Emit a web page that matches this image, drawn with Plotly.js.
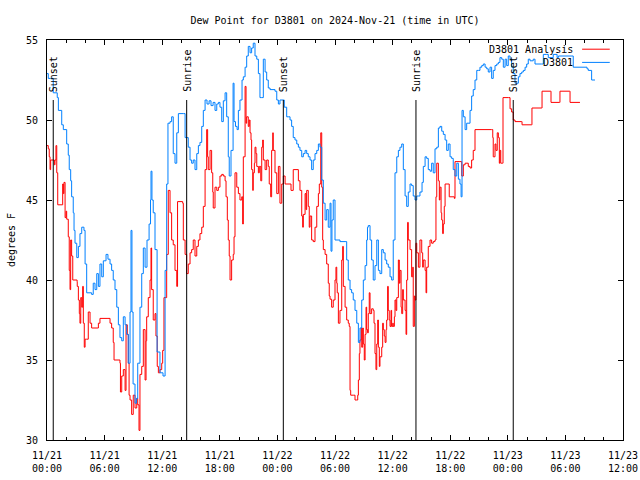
<!DOCTYPE html>
<html>
<head>
<meta charset="utf-8">
<script src="https://cdn.plot.ly/plotly-3.0.1.min.js"></script>
<style>html,body{margin:0;padding:0;background:#fff;}#chart{width:640px;height:480px;}</style>
</head>
<body>
<div id="chart"></div>
<script>
// Minutes since 2024-11-21 00:00 UTC
const obsMinutes = [0,8,23,39,56,64,71,92,102,123,133,139,148,154,164,169,175,186,196,206,217,231,238,248,279,289,300,311,321,331,342,352,369,381,394,404,414,425,436,446,456,467,477,488,498,508,519,525,531,538,550,559,567,581,592,602,613,625,638,647,650,656,664,675,688,706,725,738,748,756,769,779,789,800,811,821,852,863,873,883,894,904,914,925,936,946,956,967,977,988,1000,1013,1025,1038,1050,1061,1071,1081,1092,1102,1113,1123,1133,1139,1150,1163,1169,1178,1188,1196,1206,1219,1227,1238,1248,1258,1269,1279,1289,1300,1311,1321,1331,1342,1352,1363,1373,1383,1394,1425,1436,1446,1456,1477,1483,1498,1508,1519,1529,1539,1550,1561,1571,1581,1592,1602,1613,1623,1633,1644,1654,1664,1675,1686,1696,1706,1717,1727,1738,1748,1758,1769,1775,1781,1789,1800,1831,1863,1873,1883,1894,1904,1914,1925,1936,1946,1956,1967,1977,1988,1998,2003,2008,2019,2029,2039,2050,2061,2071,2081,2092,2102,2113,2123,2133,2144,2154,2164,2175,2186,2196,2206,2217,2227,2238,2248,2258,2269,2279,2289,2300,2311,2321,2331,2344,2352,2363,2373,2383,2394,2404,2414,2425,2436,2446,2456,2467,2477,2488,2498,2508,2519,2529,2539,2550,2561,2571,2581,2588,2594,2602,2613,2623,2644,2654,2664,2675,2686,2696,2706,2717,2727,2738,2748,2758,2769,2779,2789,2800,2811,2821,2831,2842,2852,2863,2873,2883,2894,2904,2914,2925,2936,2946,2956,2967,2977,2988,2998,3008,3019,3039,3050,3092,3102,3123,3133,3156,3164,3188,3196,3281,3289,3375,3383,3404,3425];
const obsDewpt = [52.9,52.6,52.6,51.7,51.7,51.4,50.6,49.7,49.4,48.5,47.8,46.9,46.2,45.2,44.2,43.1,42.3,41.4,42.1,42.9,43.3,43.1,41.0,39.2,39.1,39.8,39.4,40.4,39.6,41.0,40.2,41.2,41.6,41.3,41.0,40.6,40.0,39.4,38.3,37.2,36.4,36.2,37.7,37.2,36.6,34.8,38.0,43.1,38.0,33.5,32.3,32.6,34.8,38.3,40.4,42.0,40.8,42.5,43.5,45.0,46.8,45.0,44.2,41.9,35.5,34.2,34.0,40.6,46.0,49.8,49.9,50.2,47.9,47.3,49.2,50.4,50.4,48.9,48.9,48.3,47.5,47.3,47.5,46.9,47.9,48.4,48.6,49.6,50.6,51.25,51.0,51.2,50.9,51.1,50.6,51.0,51.1,50.8,49.9,51.2,51.7,50.2,47.7,46.5,48.1,52.3,49.9,49.6,49.4,50.6,51.25,52.5,52.7,53.3,54.0,54.6,54.2,54.5,54.8,54.0,53.8,52.9,51.4,51.4,53.8,53.0,52.5,52.0,51.9,51.8,51.25,51.0,51.25,51.25,50.8,50.2,50.2,50.0,49.6,48.9,48.75,48.5,48.3,48.1,47.7,47.9,48.1,47.9,47.7,47.5,46.9,47.5,47.9,48.1,48.5,48.3,46.25,44.8,43.75,44.4,43.3,44.8,41.8,43.75,45.0,42.5,42.4,42.4,41.25,40.0,39.4,39.2,38.75,38.1,37.3,36.1,37.0,38.75,40.0,40.9,42.5,43.3,43.4,42.5,41.25,40.0,40.9,42.5,40.6,40.4,41.9,41.7,41.25,41.0,40.8,40.2,40.0,42.5,46.7,47.7,48.1,48.3,48.5,46.9,45.25,44.6,45.5,46.0,45.9,45.25,45.0,45.25,45.25,45.5,46.1,47.1,47.7,47.6,46.9,46.8,47.3,46.7,48.2,48.3,49.5,49.6,49.3,49.1,48.75,48.1,48.5,47.7,47.6,46.9,46.5,47.3,46.3,46.0,45.2,50.6,50.2,49.4,49.8,50.6,51.5,51.9,52.5,53.1,53.1,53.3,53.4,53.5,53.3,53.2,53.0,53.3,52.6,53.1,53.4,53.5,53.6,53.9,53.8,53.3,53.8,53.4,54.0,53.8,53.3,52.9,52.3,52.3,52.7,52.9,53.0,53.1,53.3,53.5,53.8,53.7,53.8,53.5,53.5,54.1,54.1,53.9,53.9,54.1,53.9,54.0,54.0,53.3,53.2,53.1,52.5,52.5];

const anlMinutes = [0,8,14,19,23,39,46,50,56,61,67,94,98,102,106,113,119,123,133,139,144,148,154,161,188,189,196,202,206,211,217,223,227,233,238,248,258,269,279,313,321,331,381,394,404,414,419,444,456,459,467,477,488,494,502,508,513,519,529,539,550,561,567,575,581,592,602,613,619,623,633,644,650,654,664,675,681,689,696,706,717,723,731,738,748,758,769,779,789,800,811,816,844,848,852,863,873,883,894,904,914,925,936,946,956,967,977,988,998,1004,1008,1019,1029,1036,1039,1050,1061,1071,1081,1092,1102,1113,1119,1127,1133,1139,1144,1154,1164,1169,1175,1186,1196,1206,1217,1223,1227,1238,1244,1248,1258,1264,1269,1275,1279,1286,1289,1296,1300,1306,1311,1321,1327,1336,1342,1348,1352,1363,1373,1383,1389,1398,1404,1411,1414,1425,1436,1446,1456,1467,1477,1488,1519,1525,1538,1539,1569,1571,1581,1592,1598,1602,1613,1619,1623,1633,1639,1644,1654,1664,1675,1686,1696,1702,1711,1717,1723,1727,1738,1748,1758,1764,1769,1779,1789,1800,1806,1811,1814,1821,1831,1842,1848,1852,1863,1873,1883,1889,1894,1898,1914,1925,1936,1942,1946,1952,1956,1963,1967,1973,1977,1983,1988,1994,1998,2004,2008,2014,2019,2029,2039,2044,2050,2056,2061,2067,2071,2077,2081,2092,2098,2102,2108,2113,2119,2123,2129,2133,2139,2144,2150,2154,2161,2164,2171,2175,2181,2186,2196,2202,2206,2213,2217,2223,2227,2238,2244,2248,2254,2258,2269,2279,2286,2289,2296,2300,2306,2311,2321,2331,2342,2348,2352,2363,2369,2373,2383,2394,2404,2414,2425,2431,2436,2446,2452,2456,2463,2467,2473,2477,2483,2488,2506,2514,2546,2550,2581,2592,2602,2613,2633,2644,2654,2664,2675,2779,2786,2789,2800,2806,2814,2821,2827,2831,2836,2848,2850,2883,2894,2904,2914,2925,2967,2969,3029,3031,3092,3094,3147,3150,3203,3206,3266,3269,3331];
const anlDewpt = [48.4,48.2,47.7,46.9,47.5,47.5,47.2,47.5,48.4,46.7,44.7,44.7,46.0,45.4,46.1,43.9,44.3,43.8,42.7,40.6,39.4,42.5,41.5,40.0,39.9,39.6,38.75,37.9,37.3,38.9,38.3,39.6,37.3,35.8,36.3,36.3,38.0,37.3,37.0,37.0,37.3,37.6,37.6,37.3,37.0,36.1,35.0,35.0,34.8,33.0,34.0,34.4,33.1,37.2,36.6,34.8,32.8,32.5,31.6,32.8,32.0,32.6,32.2,30.6,34.1,34.6,36.9,33.75,36.2,37.7,38.9,40.0,42.0,39.4,37.5,37.9,36.5,34.6,34.2,34.4,34.8,35.6,38.9,38.9,41.6,45.6,44.2,42.5,42.2,40.6,39.6,44.9,44.9,44.8,42.5,41.6,40.4,41.0,41.7,41.9,42.5,41.5,42.1,42.5,42.9,43.3,44.6,46.9,49.4,47.7,46.9,48.1,46.7,45.5,44.5,45.8,45.6,45.8,46.5,46.6,46.5,46.2,45.2,43.75,42.5,41.5,40.0,41.25,41.6,42.7,46.7,45.8,45.4,45.0,45.2,43.5,47.7,52.1,49.8,50.2,49.6,50.0,49.2,48.75,46.9,45.6,46.7,47.3,48.3,47.9,47.1,46.7,47.1,46.2,48.3,48.75,47.5,46.9,47.5,47.1,46.0,45.2,48.1,49.2,48.1,46.7,45.4,47.1,44.8,46.0,46.5,46.0,46.0,45.6,45.6,46.9,46.9,46.2,45.6,44.0,43.3,44.1,45.4,44.4,45.6,44.6,43.3,44.0,42.5,42.4,43.3,44.6,45.4,46.0,49.2,45.8,42.5,41.9,41.6,41.0,39.8,39.0,38.8,38.3,38.75,40.0,40.8,39.8,39.2,37.3,38.1,41.25,42.1,39.6,38.3,37.5,37.3,37.1,33.1,32.8,32.8,32.5,32.5,32.8,33.75,35.4,36.25,37.0,35.8,37.0,36.0,35.0,36.6,38.3,36.9,36.7,37.9,39.2,37.9,38.2,38.1,37.3,35.4,34.4,36.0,37.5,35.8,34.6,35.2,35.8,37.3,36.9,36.5,36.1,36.9,37.5,39.6,38.1,37.5,37.1,38.1,37.1,37.3,37.1,37.7,38.75,38.1,38.9,41.25,39.8,40.6,38.3,37.9,39.4,38.75,38.1,36.6,40.0,43.6,42.5,41.9,40.2,40.8,37.1,39.0,38.75,42.3,41.7,40.8,42.5,41.7,40.8,41.25,40.6,39.2,40.8,42.1,42.5,42.3,42.4,42.5,45.2,47.3,46.2,45.0,45.8,44.2,43.75,42.9,43.5,44.6,46.0,46.0,45.2,45.1,47.4,47.4,46.5,47.2,47.3,47.1,47.0,47.5,48.1,49.4,49.4,48.9,47.7,48.5,48.1,49.2,48.9,47.3,48.1,47.3,47.3,51.4,51.4,50.7,50.5,50.0,49.9,49.9,49.7,49.7,50.75,50.75,51.8,51.8,51.1,51.1,51.8,51.8,51.1,51.1];

const eventMinutes = [39, 873, 1477, 2306, 2914];
const eventLabels = ['Sunset', 'Sunrise', 'Sunset', 'Sunrise', 'Sunset'];
const seriesNames = ['D3801 Analysis', 'D3801'];
const seriesColors = ['#ff0000', '#0080ff'];

const baseMs = Date.UTC(2024, 10, 21, 0, 0, 0);
function toDate(min) {
  return new Date(baseMs + min * 60000).toISOString().slice(0, 19).replace('T', ' ');
}

const FONT = 'DejaVu Sans Mono, monospace';

const traces = [
  { x: anlMinutes.map(toDate), y: anlDewpt, type: 'scatter', mode: 'lines', name: seriesNames[0],
    line: { color: seriesColors[0], width: 1, shape: 'hv' }, hoverinfo: 'skip' },
  { x: obsMinutes.map(toDate), y: obsDewpt, type: 'scatter', mode: 'lines', name: seriesNames[1],
    line: { color: seriesColors[1], width: 1, shape: 'hv' }, hoverinfo: 'skip' }
];

const shapes = eventMinutes.map(m => ({
  type: 'line', xref: 'x', yref: 'paper', x0: toDate(m), x1: toDate(m), y0: 0, y1: 0.85,
  line: { color: '#000', width: 1 }
}));
const annotations = eventMinutes.map((m, i) => ({
  xref: 'x', yref: 'paper', x: toDate(m), y: 0.865, text: eventLabels[i],
  textangle: -90, showarrow: false, xanchor: 'center', yanchor: 'bottom',
  font: { family: FONT, size: 10, color: '#000' }
}));

// legend (gnuplot style: text right-aligned, sample line to its right)
const legY = [0.977, 0.944];
seriesNames.forEach((n, i) => {
  annotations.push({ xref: 'paper', yref: 'paper', x: 0.917, y: legY[i], text: n, showarrow: false,
    xanchor: 'right', yanchor: 'middle', font: { family: FONT, size: 10, color: '#000' } });
  shapes.push({ type: 'line', xref: 'paper', yref: 'paper', x0: 0.929, x1: 0.977, y0: legY[i], y1: legY[i],
    line: { color: seriesColors[i], width: 1 } });
});

const layout = {
  width: 640, height: 480,
  margin: { l: 47, r: 17, t: 40, b: 40 },
  paper_bgcolor: '#fff', plot_bgcolor: '#fff',
  showlegend: false,
  font: { family: FONT, size: 10, color: '#000' },
  title: { text: 'Dew Point for D3801 on 2024-Nov-21 (time in UTC)', x: 0.5, xref: 'paper', xanchor: 'center',
    y: 0.958, yref: 'container', yanchor: 'middle', font: { family: FONT, size: 10, color: '#000' } },
  xaxis: {
    type: 'date', range: [toDate(0), toDate(3600)],
    tick0: toDate(0), dtick: 21600000, tickformat: '%m/%d<br>%H:%M',
    ticks: 'inside', ticklen: 5, tickcolor: '#000', tickwidth: 1,
    minor: { dtick: 7200000, ticks: 'inside', ticklen: 3, tickcolor: '#000', tickwidth: 1, showgrid: false },
    showline: true, linecolor: '#000', linewidth: 1, mirror: 'allticks',
    showgrid: false, zeroline: false, ticklabelstandoff: 6,
    tickfont: { family: FONT, size: 10, color: '#000' }
  },
  yaxis: {
    range: [30, 55], dtick: 5, tick0: 30,
    ticks: 'inside', ticklen: 5, tickcolor: '#000', tickwidth: 1,
    showline: true, linecolor: '#000', linewidth: 1, mirror: 'allticks',
    showgrid: false, zeroline: false, ticklabelstandoff: 6,
    tickfont: { family: FONT, size: 10, color: '#000' },
    title: { text: 'degrees F', standoff: 8, font: { family: FONT, size: 10, color: '#000' } }
  },
  shapes: shapes,
  annotations: annotations
};

Plotly.newPlot('chart', traces, layout, { staticPlot: true, displayModeBar: false });
</script>
</body>
</html>
